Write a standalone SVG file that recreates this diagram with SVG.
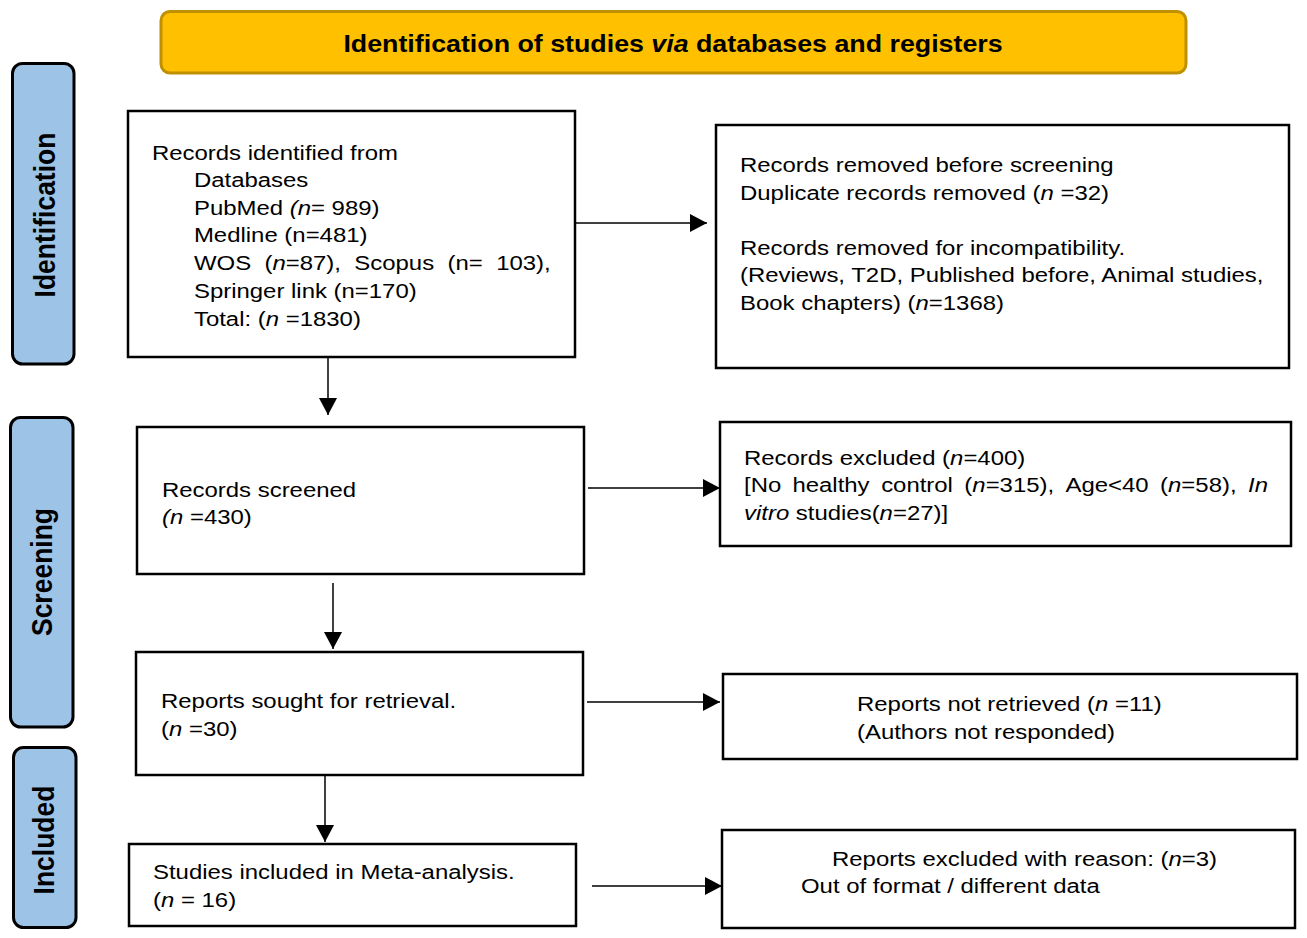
<svg xmlns="http://www.w3.org/2000/svg" width="1307" height="938" viewBox="0 0 1307 938">
<defs>
<style>
.box{fill:#fff;stroke:#000;stroke-width:2.5}
.side{fill:#9DC3E6;stroke:#000;stroke-width:3}
.t{font-family:"Liberation Sans",Arial,sans-serif;font-size:21px;fill:#000}
.lab{font-family:"Liberation Sans",Arial,sans-serif;font-size:26.5px;font-weight:bold;fill:#000}
.ttl{font-family:"Liberation Sans",Arial,sans-serif;font-size:23.5px;font-weight:bold;fill:#000}
.i{font-style:italic}
.con{stroke:#000;stroke-width:1.5;fill:none}
</style>
<marker id="ah" markerUnits="userSpaceOnUse" markerWidth="18" markerHeight="18" refX="17" refY="9" orient="auto" viewBox="0 0 18 18">
<path d="M0,0 L17,9 L0,18 z" fill="#000"/>
</marker>
</defs>
<rect width="1307" height="938" fill="#fff"/>

<g id="title">
<rect x="161" y="11.5" width="1025" height="61.5" rx="9" fill="#FFC000" stroke="#BF9000" stroke-width="3"/>
<text class="ttl" transform="matrix(1.14 0 0 1 673 52)" text-anchor="middle">Identification of studies <tspan class="i">via</tspan> databases and registers</text>
</g>

<g id="side-identification">
<rect class="side" x="12.5" y="63.5" width="61.5" height="300.5" rx="10"/>
<text class="lab" transform="translate(55 215) scale(1.14 1) rotate(-90)" text-anchor="middle">Identification</text>
</g>
<g id="side-screening">
<rect class="side" x="10.5" y="417.5" width="62.5" height="309.5" rx="10"/>
<text class="lab" transform="translate(51.5 572) scale(1.14 1) rotate(-90)" text-anchor="middle">Screening</text>
</g>
<g id="side-included">
<rect class="side" x="13.5" y="747.5" width="62.5" height="180" rx="10"/>
<text class="lab" transform="translate(54 840) scale(1.14 1) rotate(-90)" text-anchor="middle">Included</text>
</g>

<g id="node-identified">
<rect class="box" x="128" y="111" width="447" height="246"/>
<text class="t" transform="matrix(1.14 0 0 1 152 0)">
<tspan x="0" y="160.5">Records identified from</tspan>
<tspan x="36.8" y="187.5">Databases</tspan>
<tspan x="36.8" y="215.5">PubMed <tspan class="i">(n</tspan>= 989)</tspan>
<tspan x="36.8" y="242.5">Medline (n=481)</tspan>
<tspan x="36.8" y="270.5">WOS</tspan><tspan x="98.7" y="270.5">(<tspan class="i">n</tspan>=87),</tspan><tspan x="177.5" y="270.5">Scopus</tspan><tspan x="259.3" y="270.5">(n=</tspan><tspan x="301.9" y="270.5">103),</tspan>
<tspan x="36.8" y="298">Springer link (n=170)</tspan>
<tspan x="36.8" y="326">Total: (<tspan class="i">n</tspan> =1830)</tspan>
</text>
</g>

<g id="node-removed">
<rect class="box" x="716" y="125" width="573" height="243"/>
<text class="t" transform="matrix(1.14 0 0 1 740 0)">
<tspan x="0" y="172.5">Records removed before screening</tspan>
<tspan x="0" y="200.5">Duplicate records removed (<tspan class="i">n</tspan> =32)</tspan>
<tspan x="0" y="255.5">Records removed for incompatibility.</tspan>
<tspan x="0" y="282.5">(Reviews, T2D, Published before, Animal studies,</tspan>
<tspan x="0" y="310.5">Book chapters) (<tspan class="i">n</tspan>=1368)</tspan>
</text>
</g>

<g id="node-screened">
<rect class="box" x="137" y="427" width="447" height="147"/>
<text class="t" transform="matrix(1.14 0 0 1 162 0)">
<tspan x="0" y="496.5">Records screened</tspan>
<tspan x="0" y="524"><tspan class="i">(n</tspan> =430)</tspan>
</text>
</g>

<g id="node-excluded">
<rect class="box" x="720" y="422" width="571" height="124"/>
<text class="t" transform="matrix(1.14 0 0 1 744 0)">
<tspan x="0" y="465.5">Records excluded (<tspan class="i">n</tspan>=400)</tspan>
<tspan x="0" y="492.5">[No</tspan><tspan x="42.5" y="492.5">healthy</tspan><tspan x="120.3" y="492.5">control</tspan><tspan x="193.3" y="492.5">(<tspan class="i">n</tspan>=315),</tspan><tspan x="282" y="492.5">Age&lt;40</tspan><tspan x="365" y="492.5">(<tspan class="i">n</tspan>=58),</tspan><tspan x="442.1" y="492.5" class="i">In</tspan>
<tspan x="0" y="520.5"><tspan class="i">vitro</tspan> studies(<tspan class="i">n</tspan>=27)]</tspan>
</text>
</g>

<g id="node-sought">
<rect class="box" x="136" y="652" width="447" height="123"/>
<text class="t" transform="matrix(1.14 0 0 1 161 0)">
<tspan x="0" y="708.5">Reports sought for retrieval.</tspan>
<tspan x="0" y="736.5">(<tspan class="i">n</tspan> =30)</tspan>
</text>
</g>

<g id="node-notretrieved">
<rect class="box" x="723" y="674" width="574" height="85"/>
<text class="t" transform="matrix(1.14 0 0 1 857 0)">
<tspan x="0" y="711.5">Reports not retrieved (<tspan class="i">n</tspan> =11)</tspan>
<tspan x="0" y="739.5">(Authors not responded)</tspan>
</text>
</g>

<g id="node-included">
<rect class="box" x="129" y="844" width="447" height="82"/>
<text class="t" transform="matrix(1.14 0 0 1 153 0)">
<tspan x="0" y="879.5">Studies included in Meta-analysis.</tspan>
<tspan x="0" y="907.5">(<tspan class="i">n</tspan> = 16)</tspan>
</text>
</g>

<g id="node-reason">
<rect class="box" x="722" y="830" width="573" height="98"/>
<text class="t" transform="matrix(1.14 0 0 1 801 0)">
<tspan x="27.2" y="866.5">Reports excluded with reason: (<tspan class="i">n</tspan>=3)</tspan>
<tspan x="0" y="893.5">Out of format / different data</tspan>
</text>
</g>

<g id="connectors">
<line class="con" x1="575" y1="223" x2="707" y2="223" marker-end="url(#ah)"/>
<line class="con" x1="328" y1="357" x2="328" y2="415" marker-end="url(#ah)"/>
<line class="con" x1="588" y1="488" x2="720" y2="488" marker-end="url(#ah)"/>
<line class="con" x1="333" y1="583" x2="333" y2="649" marker-end="url(#ah)"/>
<line class="con" x1="587" y1="702" x2="720" y2="702" marker-end="url(#ah)"/>
<line class="con" x1="325" y1="775" x2="325" y2="842" marker-end="url(#ah)"/>
<line class="con" x1="592" y1="886" x2="722" y2="886" marker-end="url(#ah)"/>
</g>
</svg>
